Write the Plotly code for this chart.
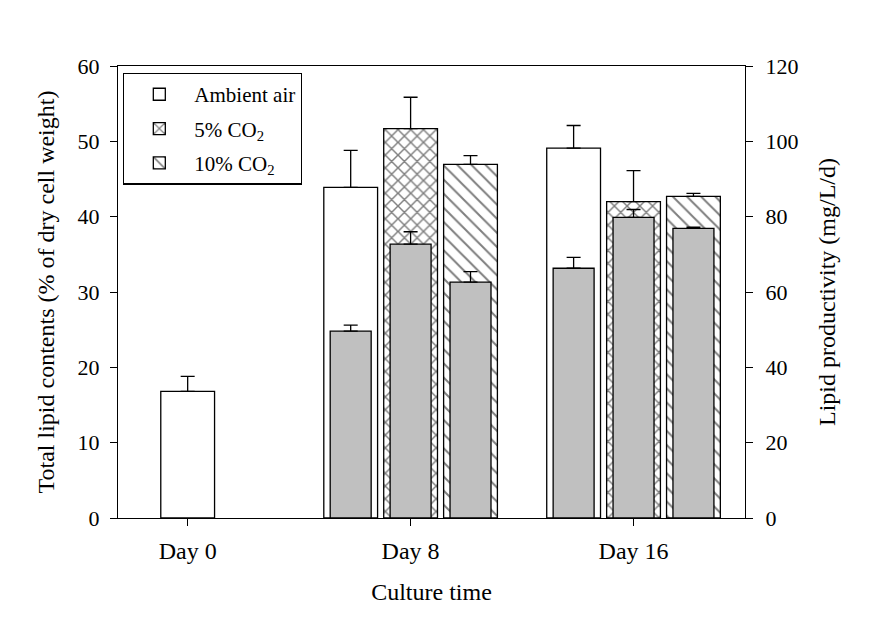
import plotly.graph_objects as go

# ---------------- data ----------------
days = [0, 8, 16]
day_labels = ["Day 0", "Day 8", "Day 16"]
series_names = ["Ambient air", "5% CO<sub>2</sub>", "10% CO<sub>2</sub>"]

# Total lipid contents (% of dry cell weight) - left axis
lipid_ambient = [16.8, 43.9, 49.1]
lipid_ambient_err = [2.0, 4.9, 3.0]
lipid_co2_5 = [None, 51.7, 42.0]
lipid_co2_5_err = [None, 4.15, 4.1]
lipid_co2_10 = [None, 46.95, 42.7]
lipid_co2_10_err = [None, 1.15, 0.4]

# Lipid productivity (mg/L/d) - right axis
prod_ambient = [None, 49.6, 66.3]
prod_ambient_err = [None, 1.6, 2.9]
prod_co2_5 = [None, 72.7, 79.8]
prod_co2_5_err = [None, 3.3, 2.1]
prod_co2_10 = [None, 62.6, 76.9]
prod_co2_10_err = [None, 2.8, 0.3]

left_ticks = [0, 10, 20, 30, 40, 50, 60]
right_ticks = [0, 20, 40, 60, 80, 100, 120]

# ---------------- styling ----------------
FONT = "Liberation Serif, Times New Roman, serif"
PITCH = 2.15       # spacing between grouped bars (in x units)
OUTER_W = 1.93     # width of lipid content bars
INNER_W = 1.47     # width of productivity bars
patterns = [
    dict(shape="", bgcolor="white"),
    dict(shape="x", size=9, solidity=0.3, fgcolor="black", bgcolor="white"),
    dict(shape="\\", size=10, solidity=0.2, fgcolor="black", bgcolor="white"),
]

lipid = [lipid_ambient, lipid_co2_5, lipid_co2_10]
lipid_err = [lipid_ambient_err, lipid_co2_5_err, lipid_co2_10_err]
prod = [prod_ambient, prod_co2_5, prod_co2_10]
prod_err = [prod_ambient_err, prod_co2_5_err, prod_co2_10_err]

# position of each series within each day group (centered on the present bars)
positions = [[None] * len(days) for _ in series_names]
for j, d in enumerate(days):
    present = [i for i in range(len(series_names)) if lipid[i][j] is not None]
    n = len(present)
    for k, i in enumerate(present):
        positions[i][j] = d + (k - (n - 1) / 2) * PITCH

fig = go.Figure()

for i, name in enumerate(series_names):
    xs = [positions[i][j] for j in range(len(days)) if lipid[i][j] is not None]
    ys = [v for v in lipid[i] if v is not None]
    es = [e for e, v in zip(lipid_err[i], lipid[i]) if v is not None]
    fig.add_trace(go.Bar(
        x=xs, y=ys, width=OUTER_W, name=name, legendgroup=f"g{i}",
        marker=dict(color="white", line=dict(color="black", width=1.3),
                    pattern=patterns[i]),
        error_y=dict(type="data", array=es, arrayminus=[0] * len(es),
                     symmetric=False, color="black", thickness=1.3, width=7),
        yaxis="y", showlegend=True,
    ))

for i, name in enumerate(series_names):
    xs = [positions[i][j] for j in range(len(days)) if prod[i][j] is not None]
    ys = [v for v in prod[i] if v is not None]
    es = [e for e, v in zip(prod_err[i], prod[i]) if v is not None]
    fig.add_trace(go.Bar(
        x=xs, y=ys, width=INNER_W, name=name + " productivity",
        marker=dict(color="#c0c0c0", line=dict(color="black", width=1.3)),
        error_y=dict(type="data", array=es, arrayminus=[0] * len(es),
                     symmetric=False, color="black", thickness=1.3, width=7),
        yaxis="y2", showlegend=False,
    ))

axis_common = dict(showgrid=False, zeroline=False, showline=True,
                   linecolor="black", linewidth=1.3, ticks="outside",
                   ticklen=7, tickwidth=1.3, tickcolor="black")

fig.update_layout(
    width=875, height=618,
    margin=dict(l=110, r=138, t=58, b=108, autoexpand=False),
    paper_bgcolor="white", plot_bgcolor="white",
    barmode="overlay",
    font=dict(family=FONT, size=22, color="black"),
    xaxis=dict(**axis_common, range=[-2.5, 20], tickvals=days,
               ticktext=day_labels, mirror=True,
               tickfont=dict(size=24), ticklabelstandoff=4,
               title=dict(text="Culture time", font=dict(size=24), standoff=20)),
    yaxis=dict(**axis_common, range=[0, 60], tickvals=left_ticks,
               tickfont=dict(size=22), ticklabelstandoff=6,
               title=dict(text="Total lipid contents (% of dry cell weight)",
                          font=dict(size=24), standoff=16)),
    yaxis2=dict(**axis_common, range=[0, 120], tickvals=right_ticks,
                overlaying="y", side="right",
                tickfont=dict(size=22), ticklabelstandoff=8,
                title=dict(text="Lipid productivity (mg/L/d)",
                           font=dict(size=24), standoff=20)),
    legend=dict(x=0.008, y=0.985, xanchor="left", yanchor="top",
                bgcolor="white", bordercolor="black", borderwidth=1.3,
                font=dict(size=21, family=FONT), itemwidth=60,
                traceorder="grouped", tracegroupgap=4),
)

fig.write_html("out.html")
